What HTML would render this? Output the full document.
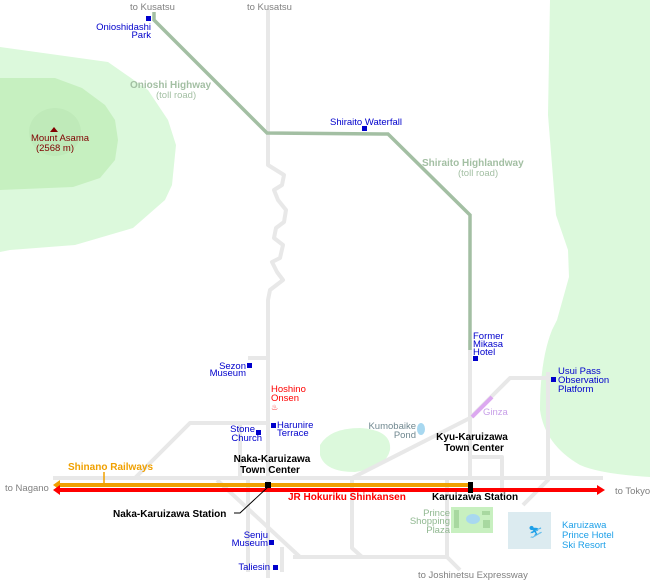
<!DOCTYPE html>
<html><head><meta charset="utf-8"><style>
html,body{margin:0;padding:0;background:#fff}
svg{display:block}
text{font-family:"Liberation Sans",sans-serif;font-size:9.5px}
.b{font-weight:bold;font-size:10px}
.blue{fill:#0000cc}
</style></head><body>
<svg width="650" height="580" viewBox="0 0 650 580" xmlns="http://www.w3.org/2000/svg">
<!-- green areas -->
<polygon fill="#dcf9dc" points="0,47 108,62 148,90 168,120 176,145 172,185 165,200 133,228 75,245 10,250 0,252"/>
<polygon fill="#c6f0c0" points="0,78 55,78 82,88 105,105 115,120 118,140 115,160 100,178 73,187 0,190"/>
<ellipse cx="55" cy="132" rx="26" ry="24" fill="#bfeab9"/>
<path fill="#dcf9dc" d="M550,0 L650,0 L650,477 Q600,474 580,465 Q545,445 540,410 Q540,360 552,330 L557,320 L569,277 L568,250 L556,215 L548,115 L550,0 Z"/>
<path fill="#dcf9dc" d="M320,445 Q330,428 360,428 Q392,430 390,450 Q386,468 355,472 Q325,472 320,455 Z"/>
<!-- gray roads -->
<g stroke="#e8e8e8" stroke-width="4" fill="none" stroke-linejoin="round">
<path d="M268,10 L268,165 L276,170 L284,175 L282,185 L274,190 L278,200 L286,210 L284,222 L276,228 L274,238 L283,245 L280,258 L272,262 L277,272 L283,280 L270,290 L268,300 L268,578"/>
<path d="M248,358 L268,358"/>
<path d="M53,478 L603,478"/>
<path d="M135,478 L190,423 L268,423"/>
<path d="M240,423 L240,478"/>
<path d="M217,480 L300,557"/>
<path d="M248,478 L248,572"/>
<path d="M282,547 L282,572"/>
<path d="M470,418 L352,478 L352,548 L362,557 L447,557"/>
<path d="M293,557 L447,557"/>
<path d="M447,478 L447,557 L460,570"/>
<path d="M470,340 L470,478"/>
<path d="M470,457 L502,457 L502,497"/>
<path d="M470,418 L510,378 L548,378"/>
<path d="M548,372 L548,480 L523,505"/>
</g>
<!-- toll roads -->
<g stroke="#a3bfa3" stroke-width="3.5" fill="none">
<path d="M154,12 L154,20 L267,133 L388,134 L470,215 L470,350"/>
</g>
<!-- Ginza -->
<line x1="472" y1="417" x2="492" y2="397" stroke="#dca8f0" stroke-width="4"/>
<!-- pond -->
<ellipse cx="421" cy="429" rx="4" ry="6" fill="#a8d8f0"/>
<!-- prince shopping -->
<rect x="451" y="507" width="42" height="26" fill="#c8f0c0"/>
<rect x="454" y="510" width="5" height="18" fill="#a8d8a0"/>
<ellipse cx="473" cy="519" rx="7" ry="5" fill="#a8d8f0"/>
<rect x="482" y="511" width="8" height="4" fill="#a8d8a0"/>
<rect x="483" y="520" width="7" height="8" fill="#a8d8a0"/>
<!-- ski -->
<rect x="508" y="512" width="43" height="37" fill="#dcebf0"/>
<text x="528" y="536" fill="#1ea0e8" style="font-size:12px">⛷</text>
<!-- railways -->
<line x1="57" y1="485" x2="470" y2="485" stroke="#f0a000" stroke-width="4"/>
<polygon points="53,485 60,480 60,490" fill="#f0a000"/>
<line x1="104" y1="472" x2="104" y2="484" stroke="#f0a000" stroke-width="1.5"/>
<line x1="57" y1="490" x2="600" y2="490" stroke="#ff0000" stroke-width="4"/>
<polygon points="53,490 60,485 60,495" fill="#ff0000"/>
<polygon points="605,490 597,485 597,495" fill="#ff0000"/>
<rect x="265" y="482" width="6" height="6" fill="#000"/>
<rect x="468" y="482" width="5" height="11" fill="#000"/>
<polyline points="234,513 240,513 268,487" stroke="#000" stroke-width="1" fill="none"/>
<!-- markers -->
<g fill="#0000cc">
<rect x="146" y="16" width="5" height="5"/>
<rect x="362" y="126" width="5" height="5"/>
<rect x="473" y="356" width="5" height="5"/>
<rect x="551" y="377" width="5" height="5"/>
<rect x="247" y="363" width="5" height="5"/>
<rect x="271" y="423" width="5" height="5"/>
<rect x="256" y="430" width="5" height="5"/>
<rect x="269" y="540" width="5" height="5"/>
<rect x="273" y="565" width="5" height="5"/>
</g>
<polygon points="54,127 50,132 58,132" fill="#800000"/>
<!-- text -->
<g fill="#808080">
<text x="130" y="10">to Kusatsu</text>
<text x="247" y="10">to Kusatsu</text>
<text x="5" y="491">to Nagano</text>
<text x="615" y="494">to Tokyo</text>
<text x="418" y="578">to Joshinetsu Expressway</text>
</g>
<g class="blue" fill="#0000cc" text-anchor="end">
<text x="151" y="30">Onioshidashi</text>
<text x="151" y="38">Park</text>
<text x="246" y="369">Sezon</text>
<text x="246" y="376">Museum</text>
<text x="255" y="432">Stone</text>
<text x="262" y="441">Church</text>
<text x="268" y="538">Senju</text>
<text x="268" y="546">Museum</text>
<text x="270" y="570">Taliesin</text>
</g>
<g fill="#0000cc">
<text x="330" y="125">Shiraito Waterfall</text>
<text x="473" y="339">Former</text>
<text x="473" y="347">Mikasa</text>
<text x="473" y="355">Hotel</text>
<text x="558" y="374">Usui Pass</text>
<text x="558" y="383">Observation</text>
<text x="558" y="392">Platform</text>
<text x="277" y="428">Harunire</text>
<text x="277" y="436">Terrace</text>
</g>
<g fill="#800000" text-anchor="middle">
<text x="60" y="141">Mount Asama</text>
<text x="55" y="151">(2568 m)</text>
</g>
<g fill="#ff0000">
<text x="271" y="392">Hoshino</text>
<text x="271" y="401">Onsen</text>
<text x="271" y="410" style="font-size:8px">♨</text>
</g>
<g fill="#a3bfa3">
<text class="b" x="130" y="88">Onioshi Highway</text>
<text x="156" y="98">(toll road)</text>
<text class="b" x="422" y="166">Shiraito Highlandway</text>
<text x="458" y="176">(toll road)</text>
</g>
<g fill="#708890" text-anchor="end">
<text x="416" y="429">Kumobaike</text>
<text x="416" y="438">Pond</text>
</g>
<text x="483" y="415" fill="#c8a0e8">Ginza</text>
<g fill="#90b890" text-anchor="end">
<text x="450" y="516">Prince</text>
<text x="450" y="524">Shopping</text>
<text x="450" y="533">Plaza</text>
</g>
<g fill="#1ea0e8">
<text x="562" y="528">Karuizawa</text>
<text x="562" y="538">Prince Hotel</text>
<text x="562" y="548">Ski Resort</text>
</g>
<g fill="#000" class="b" text-anchor="middle">
<text class="b" x="472" y="440">Kyu-Karuizawa</text>
<text class="b" x="474" y="451">Town Center</text>
<text class="b" x="272" y="462">Naka-Karuizawa</text>
<text class="b" x="270" y="473">Town Center</text>
</g>
<text class="b" x="432" y="500" fill="#000">Karuizawa Station</text>
<text class="b" x="113" y="517" fill="#000">Naka-Karuizawa Station</text>
<text class="b" x="288" y="500" fill="#ff0000">JR Hokuriku Shinkansen</text>
<text class="b" x="68" y="470" fill="#f0a000">Shinano Railways</text>
</svg>
</body></html>
